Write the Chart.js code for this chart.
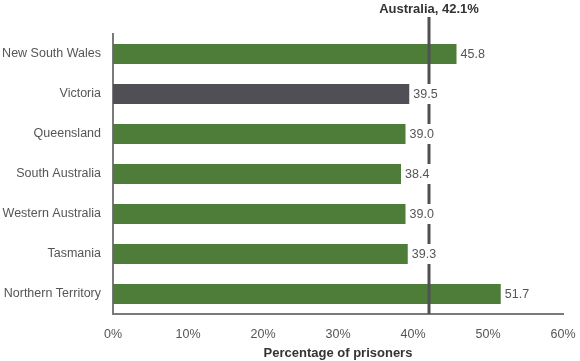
<!DOCTYPE html>
<html>
<head>
<meta charset="utf-8">
<script src="https://cdn.jsdelivr.net/npm/chart.js@4/dist/chart.umd.min.js"></script>
<style>
  html, body { margin: 0; padding: 0; background: #fff; }
  #wrap { width: 580px; height: 361px; position: relative; }
</style>
</head>
<body>
<div id="wrap"><canvas id="chart" width="580" height="361"></canvas></div>
<script>
const states = ["New South Wales", "Victoria", "Queensland", "South Australia", "Western Australia", "Tasmania", "Northern Territory"];
const percentages = [45.8, 39.5, 39.0, 38.4, 39.0, 39.3, 51.7];
const barColors = ["#4e7d3a", "#4f4f55", "#4e7d3a", "#4e7d3a", "#4e7d3a", "#4e7d3a", "#4e7d3a"];
const australiaValue = 42.1;
const australiaLabel = "Australia, 42.1%";
const xTicks = [0, 10, 20, 30, 40, 50, 60];

const FONT = "'Liberation Sans', Arial, sans-serif";
const TEXT = "#555555";

// line for the national figure + value labels (labels have white boxes that hide the line)
const overlay = {
    id: "overlay",
    afterDatasetsDraw(chart) {
        const ctx = chart.ctx;
        const x = chart.scales.x;
        const area = chart.chartArea;
        const lx = Math.round(x.getPixelForValue(australiaValue));

        ctx.save();
        ctx.strokeStyle = "#505055";
        ctx.lineWidth = 3;
        ctx.beginPath();
        ctx.moveTo(lx, 17);
        ctx.lineTo(lx, area.bottom);
        ctx.stroke();

        ctx.fillStyle = "#333333";
        ctx.font = "bold 13px " + FONT;
        ctx.textAlign = "center";
        ctx.textBaseline = "middle";
        ctx.fillText(australiaLabel, lx, 9);

        const meta = chart.getDatasetMeta(0);
        ctx.font = "12.5px " + FONT;
        ctx.textAlign = "left";
        meta.data.forEach((bar, i) => {
            const txt = percentages[i].toFixed(1);
            const w = ctx.measureText(txt).width;
            const tx = bar.x + 4;
            ctx.fillStyle = "#ffffff";
            ctx.fillRect(bar.x + 1, bar.y - 10, w + 6, 20);
            ctx.fillStyle = TEXT;
            ctx.fillText(txt, tx, bar.y + 1);
        });
        ctx.restore();
    }
};

new Chart(document.getElementById("chart"), {
    type: "bar",
    data: {
        labels: states,
        datasets: [{
            data: percentages,
            backgroundColor: barColors,
            borderWidth: 0,
            categoryPercentage: 1,
            barPercentage: 0.5
        }]
    },
    options: {
        indexAxis: "y",
        responsive: false,
        animation: false,
        devicePixelRatio: 1,
        layout: { padding: { top: 34, right: 17, left: 0, bottom: 0 } },
        plugins: { legend: { display: false }, tooltip: { enabled: false } },
        scales: {
            x: {
                min: 0,
                max: 60,
                afterBuildTicks: s => { s.ticks = xTicks.map(v => ({ value: v })); },
                afterFit: s => { s.height = 47; s.paddingLeft = 0; s.paddingRight = 0; },
                grid: { display: false, drawTicks: false },
                border: { display: true, color: "#7a7a7a", width: 2 },
                ticks: {
                    padding: 13,
                    color: TEXT,
                    font: { family: FONT, size: 12.5 },
                    callback: v => v + "%"
                },
                title: {
                    display: true,
                    text: "Percentage of prisoners",
                    color: "#333333",
                    font: { family: FONT, size: 13, weight: "bold" },
                    padding: { top: 2, bottom: 0 }
                }
            },
            y: {
                afterFit: s => { s.width = 113; s.paddingTop = 0; s.paddingBottom = 0; },
                grid: { display: false, drawTicks: false },
                border: { display: true, color: "#7a7a7a", width: 2 },
                ticks: {
                    padding: 12,
                    color: TEXT,
                    font: { family: FONT, size: 12.5 }
                }
            }
        }
    },
    plugins: [overlay]
});
</script>
</body>
</html>
